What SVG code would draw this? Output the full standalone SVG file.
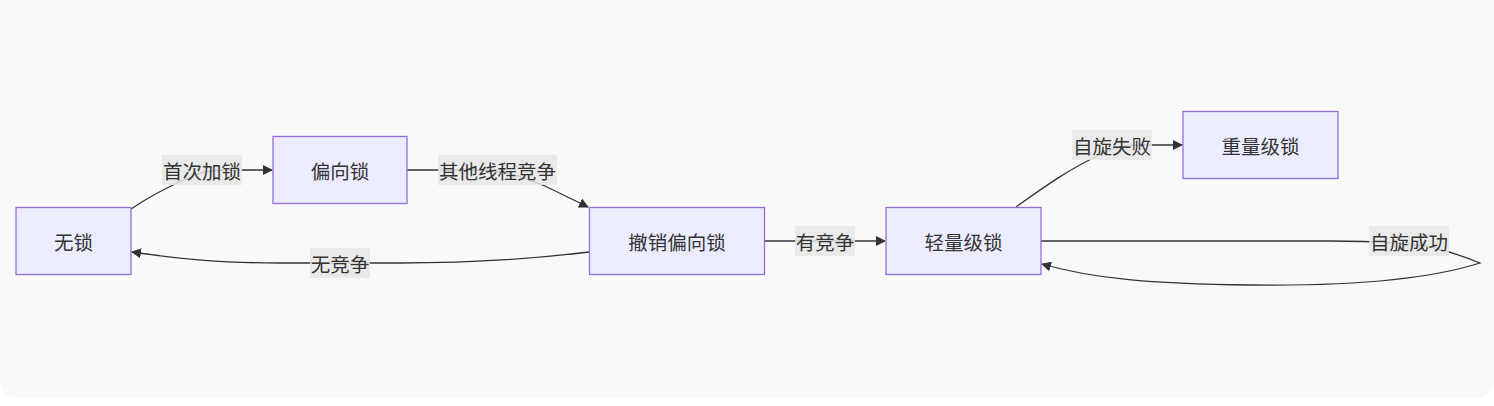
<svg xmlns="http://www.w3.org/2000/svg" width="1494" height="406" viewBox="0 0 1494 406">
<style>
.node rect{fill:#ECECFF;stroke:#9370DB;stroke-width:1.3}
text{font-family:"Noto Sans CJK SC","Noto Sans",sans-serif;font-size:19.5px;fill:#333;text-anchor:middle;dominant-baseline:central}
.edge{fill:none;stroke:#333;stroke-width:1.3}
.lbl{fill:#e8e8e8;opacity:0.85}
</style>
<defs>
<marker id="arrow" viewBox="0 0 10 10" refX="9" refY="5" markerWidth="10" markerHeight="10" markerUnits="userSpaceOnUse" orient="auto">
<path d="M0,0 L10,5 L0,10 z" fill="#333"/>
</marker>
</defs>
<rect x="0" y="0" width="1494" height="406" fill="#ffffff"/>
<rect x="0" y="-20" width="1494" height="418" rx="17" fill="#f9f9f9"/>
<g id="connectors">
<path class="edge" d="M131,209 C150,196 170,186 190,177 C200,172 210,170 225,170 L272,170" marker-end="url(#arrow)"/>
<path class="edge" d="M407,170 L480,170 C505,170 525,178 545,186 L588,207" marker-end="url(#arrow)"/>
<path class="edge" d="M589,252 C540,258 480,263 400,263 L280,263 C220,263 180,259 132,252" marker-end="url(#arrow)"/>
<path class="edge" d="M764,241 L885,241" marker-end="url(#arrow)"/>
<path class="edge" d="M1016,207 C1040,190 1070,168 1100,155 C1110,150 1120,145 1140,145 L1182,145" marker-end="url(#arrow)"/>
<path class="edge" d="M1041,241 L1330,241 C1380,241 1410,243 1435,248 C1455,253 1470,259 1480,263 C1420,282 1330,286 1250,285 C1150,284 1090,278 1042,264" marker-end="url(#arrow)"/>
<rect class="lbl" x="162" y="155" width="80" height="30"/>
<text x="202" y="170">首次加锁</text>
<rect class="lbl" x="438" y="155" width="119" height="30"/>
<text x="497.5" y="170">其他线程竞争</text>
<rect class="lbl" x="310" y="248" width="60" height="30"/>
<text x="340" y="263">无竞争</text>
<rect class="lbl" x="795" y="226" width="60" height="30"/>
<text x="825" y="241">有竞争</text>
<rect class="lbl" x="1072" y="130" width="80" height="30"/>
<text x="1112" y="145">自旋失败</text>
<rect class="lbl" x="1369" y="226" width="80" height="30"/>
<text x="1409" y="241">自旋成功</text>
</g>
<g id="n-wusuo" class="node"><rect x="16" y="207.5" width="115" height="67"/><text x="73.5" y="241">无锁</text></g>
<g id="n-pianxiang" class="node"><rect x="273" y="136.5" width="134" height="67"/><text x="340" y="170">偏向锁</text></g>
<g id="n-chexiao" class="node"><rect x="589.5" y="207.5" width="175" height="67"/><text x="677" y="241">撤销偏向锁</text></g>
<g id="n-qingliang" class="node"><rect x="886" y="207.5" width="155" height="67"/><text x="963.5" y="241">轻量级锁</text></g>
<g id="n-zhongliang" class="node"><rect x="1183" y="111.5" width="155" height="67"/><text x="1260.5" y="145">重量级锁</text></g>
</svg>
